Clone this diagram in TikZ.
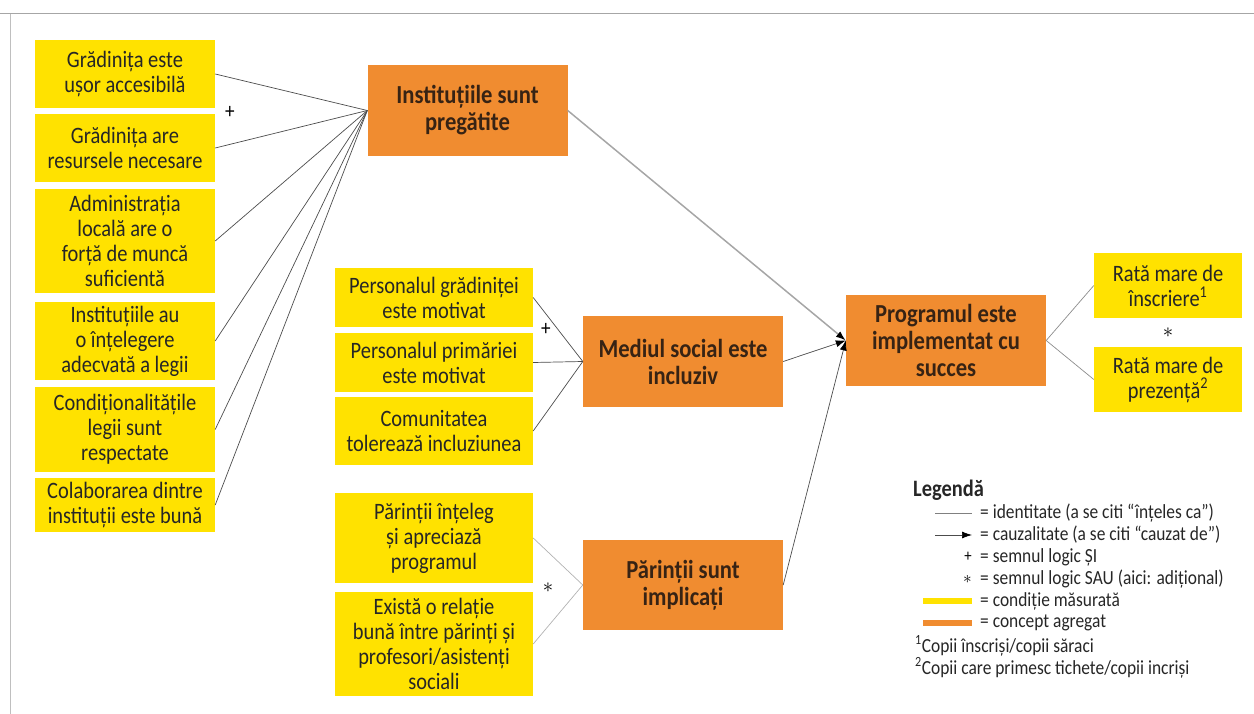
\documentclass[tikz,border=0pt]{standalone}
\usepackage{fontspec}
\setmainfont{Carlito}[FakeStretch=0.87]
\usetikzlibrary{positioning,arrows.meta}
\definecolor{condyellow}{RGB}{255,226,0}
\definecolor{concorange}{RGB}{240,140,48}
\definecolor{conctext}{RGB}{55,35,20}

\begin{document}
\begin{tikzpicture}[x=1pt,y=-1pt,
    cond/.style={fill=condyellow, text=black!85, align=center, inner sep=0pt, font=\fontsize{23.5}{25}\selectfont},
    leftbox/.style={cond, minimum width=180pt},
    midbox/.style={cond, minimum width=198pt},
    ratebox/.style={cond, minimum width=148pt, minimum height=65pt},
    concept/.style={fill=concorange, text=conctext, align=center, inner sep=0pt, minimum width=200pt, minimum height=91pt, font=\bfseries\fontsize{26}{27}\selectfont},
    link/.style={draw=black!70, line width=0.7pt},
    cause/.style={link, -{Latex[length=10pt,width=7pt,color=black]}},
    logic/.style={font=\fontsize{22}{22}\selectfont, text=black, inner sep=0pt},
    legtext/.style={anchor=west, font=\fontsize{20}{22}\selectfont, text=black!85, inner sep=0pt}]
    \useasboundingbox (0,0) rectangle (1254,714);
    \draw[black!35, line width=1pt] (0,14) -- (1254,14);
    \draw[black!25, line width=1pt] (10,14) -- (10,714);

    \node[leftbox, minimum height=68pt] (gradAcc) at (125,74) {Grădinița este\\ușor accesibilă};
    \node[leftbox, minimum height=68pt] (gradRes) at (125,148) {Grădinița are\\resursele necesare};
    \node[leftbox, minimum height=104pt] (adminLoc) at (125,241) {Administrația\\locală are o\\forță de muncă\\suficientă};
    \node[leftbox, minimum height=78pt] (instLeg) at (125,341) {Instituțiile au\\o înțelegere\\adecvată a legii};
    \node[leftbox, minimum height=85pt] (condLeg) at (125,429.5) {Condiționalitățile\\legii sunt\\respectate};
    \node[leftbox, minimum height=54pt] (colabInst) at (125,505) {Colaborarea dintre\\instituții este bună};

    \node[concept] (instPreg) at (467.5,110.5) {Instituțiile sunt\\pregătite};

    \node[midbox, minimum height=59pt] (persGrad) at (434,297.5) {Personalul grădiniței\\este motivat};
    \node[midbox, minimum height=59pt] (persPrim) at (434,362.5) {Personalul primăriei\\este motivat};
    \node[midbox, minimum height=68pt] (comTol) at (434,431) {Comunitatea\\tolerează incluziunea};
    \node[midbox, minimum height=90pt] (parInt) at (434,538) {Părinții înțeleg\\și apreciază\\programul};
    \node[midbox, minimum height=104pt] (relPar) at (434,644) {Există o relație\\bună între părinți și\\profesori/asistenți\\sociali};

    \node[concept] (medSoc) at (683,361.5) {Mediul social este\\incluziv};
    \node[concept, minimum height=90pt] (parImpl) at (683,585) {Părinții sunt\\implicați};
    \node[concept] (progSucc) at (946,340.5) {Programul este\\implementat cu\\succes};

    \node[ratebox] (rataInscr) at (1168,285.5) {Rată mare de\\înscriere\textsuperscript{1}};
    \node[ratebox] (rataPrez) at (1168,379.5) {Rată mare de\\prezență\textsuperscript{2}};

    \node[logic] (andInst) at (230,112) {+};
    \node[logic] (andMed) at (546,329) {+};
    \node[logic] (orPar) at (548,588) {$\ast$};
    \node[logic] (orRata) at (1168,333) {$\ast$};

    \draw[link] (gradAcc.east) -- (instPreg.west);
    \draw[link] (gradRes.east) -- (instPreg.west);
    \draw[link] (adminLoc.east) -- (instPreg.west);
    \draw[link] (instLeg.east) -- (instPreg.west);
    \draw[link] (condLeg.east) -- (instPreg.west);
    \draw[link] (colabInst.east) -- (instPreg.west);

    \draw[link] (persGrad.east) -- (medSoc.west);
    \draw[link] (persPrim.east) -- (medSoc.west);
    \draw[link] (comTol.east) -- (medSoc.west);
    \draw[link, draw=black!30] (parInt.east) -- (parImpl.west);
    \draw[link, draw=black!30] (relPar.east) -- (parImpl.west);

    \draw[cause, draw=black!35, line width=1.5pt] (instPreg.east) -- (progSucc.west);
    \draw[cause] (medSoc.east) -- (progSucc.west);
    \draw[cause] (parImpl.east) -- (progSucc.west);
    \draw[link, draw=black!45] (progSucc.east) -- (rataInscr.west);
    \draw[link, draw=black!45] (progSucc.east) -- (rataPrez.west);

    \node[legtext, font=\bfseries\fontsize{23.5}{24}\selectfont] (legTitle) at (913,490) {Legendă};
    \node[legtext] (legId) at (980,513) {= identitate (a se citi “înțeles ca”)};
    \node[legtext] (legCauz) at (980,535) {= cauzalitate (a se citi “cauzat de”)};
    \node[legtext] (legSi) at (980,557) {= semnul logic ȘI};
    \node[legtext] (legSau) at (980,579) {= semnul logic SAU (aici: adițional)};
    \node[legtext] (legCond) at (980,601) {= condiție măsurată};
    \node[legtext] (legConc) at (980,623) {= concept agregat};
    \node[legtext] (legFn1) at (915,646) {\textsuperscript{1}Copii înscriși/copii săraci};
    \node[legtext] (legFn2) at (915,668) {\textsuperscript{2}Copii care primesc tichete/copii incriși};

    \draw[link, draw=black!50] ([xshift=-45pt]legId.west) -- ([xshift=-8pt]legId.west);
    \draw[cause] ([xshift=-45pt]legCauz.west) -- ([xshift=-8pt]legCauz.west);
    \node[logic, font=\fontsize{17}{17}\selectfont, left=8pt of legSi] (legPlus) {+};
    \node[logic, font=\fontsize{17}{17}\selectfont, left=8pt of legSau] (legStar) {$\ast$};
    \fill[condyellow] ([xshift=-57pt,yshift=-3pt]legCond.west) rectangle ([xshift=-8pt,yshift=3pt]legCond.west);
    \fill[concorange] ([xshift=-57pt,yshift=-3pt]legConc.west) rectangle ([xshift=-8pt,yshift=3pt]legConc.west);
\end{tikzpicture}
\end{document}
